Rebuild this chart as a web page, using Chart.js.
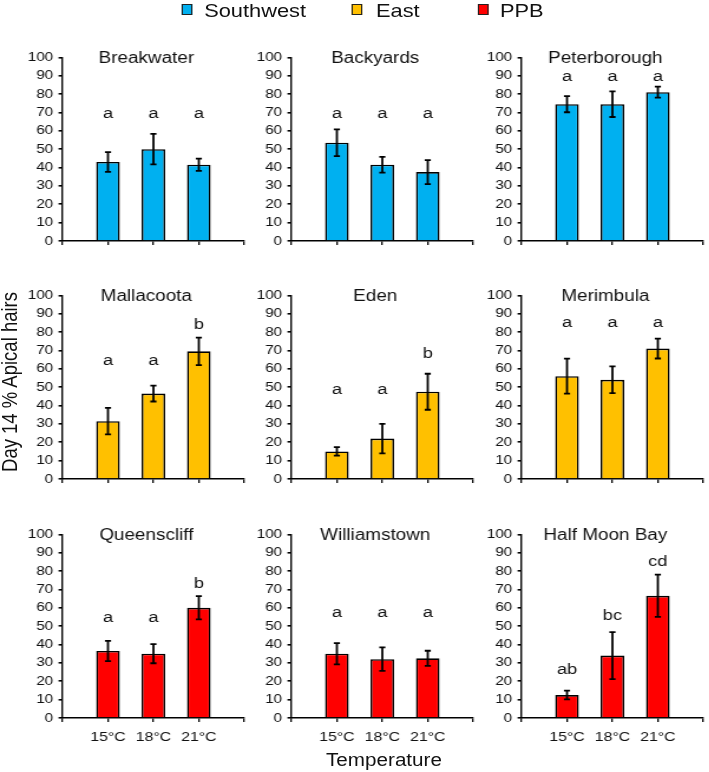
<!DOCTYPE html>
<html>
<head>
<meta charset="utf-8">
<script src="https://cdn.jsdelivr.net/npm/chart.js@4.4.0/dist/chart.umd.min.js"></script>
<style>
    html, body { margin: 0; padding: 0; background: #fff; overflow: hidden; width: 709px; height: 772px; }
    #page {
        position: absolute; left: 0; top: 0; width: 601px; height: 772px;
        transform: scaleX(1.18); transform-origin: 0 0;
        font-family: 'Liberation Sans', Arial, sans-serif; color: #111;
    }
    #page canvas { position: absolute; }
    .lbl { position: absolute; white-space: nowrap; line-height: 20px; }
    .swatch { position: absolute; width: 9px; height: 11px; border: 1px solid #222; box-sizing: border-box; }
</style>
</head>
<body>
<div id="page"></div>
<script>
// data
const regionNames = ['Southwest', 'East', 'PPB']
const regionColors = ['#00B0F0', '#FFC000', '#FF0000']
const sites = ['Breakwater', 'Backyards', 'Peterborough', 'Mallacoota', 'Eden', 'Merimbula', 'Queenscliff', 'Williamstown', 'Half Moon Bay']
const siteRegion = [0, 0, 0, 1, 1, 1, 2, 2, 2]
const temps = ['15°C', '18°C', '21°C']
const means = [
    [43, 50, 41.5],
    [53.5, 41.5, 37.5],
    [74.5, 74.5, 81],
    [31.5, 46.5, 69.5],
    [15, 22, 47.5],
    [56, 54, 71],
    [36.5, 35, 60],
    [35, 32, 32.5],
    [12.5, 34, 66.5],
]
const errs = [
    [5.4, 8.3, 3.3],
    [7.3, 4.3, 6.5],
    [4.4, 7, 3],
    [7.2, 4.3, 7.5],
    [2.3, 8, 9.8],
    [9.5, 7.3, 5.4],
    [5.5, 5.2, 6.3],
    [5.8, 6.4, 4.1],
    [2.4, 12.8, 11.5],
]
const letters = [
    ['a', 'a', 'a'], ['a', 'a', 'a'], ['a', 'a', 'a'],
    ['a', 'a', 'b'], ['a', 'a', 'b'], ['a', 'a', 'a'],
    ['a', 'a', 'b'], ['a', 'a', 'a'], ['ab', 'bc', 'cd'],
]
// baseline of the letters, in axis units
const letterLevels = [
    [67, 67, 67], [67, 67, 67], [87, 87, 87],
    [62, 62, 81.5], [46, 46, 66], [83, 83, 83],
    [52, 52, 70.5], [55, 55, 55], [24, 53.5, 83],
]
const yTitle = 'Day 14 % Apical hairs'
const xTitle = 'Temperature'

// layout (figure is stretched horizontally by S)
const S = 1.18
const FONT = "'Liberation Sans', Arial, sans-serif"
const plotLeft = [62, 292, 522]
const plotTop = [55, 293, 532]
const PLOT_W = 187
const PLOT_H = 186
const Y_W = 40
const X_H = 30
const PAD_T = 10
const PAD_R = 3
const CAP = 2.6

Chart.defaults.font.family = FONT
Chart.defaults.color = '#111'

const page = document.getElementById('page')

// legend
const legendPos = [[154, 173], [297.5, 318.6], [405, 423.7]]
regionNames.forEach((name, i) => {
    const sw = document.createElement('div')
    sw.className = 'swatch'
    sw.style.left = legendPos[i][0] + 'px'
    sw.style.top = '4px'
    sw.style.background = regionColors[i]
    page.appendChild(sw)
    const t = document.createElement('div')
    t.className = 'lbl'
    t.style.left = legendPos[i][1] + 'px'
    t.style.top = '1px'
    t.style.fontSize = '18.5px'
    t.textContent = name
    page.appendChild(t)
})

// axis titles
const yt = document.createElement('div')
yt.className = 'lbl'
yt.style.fontSize = '18.5px'
yt.style.left = (10 / S) + 'px'
yt.style.top = '382px'
yt.style.transform = 'translate(-50%, -50%) rotate(-90deg)'
yt.textContent = yTitle
page.appendChild(yt)

const xt = document.createElement('div')
xt.className = 'lbl'
xt.style.fontSize = '17.5px'
xt.style.left = (384 / S) + 'px'
xt.style.top = '760px'
xt.style.transform = 'translate(-50%, -50%)'
xt.textContent = xTitle
page.appendChild(xt)

sites.forEach((site, i) => {
    const row = Math.floor(i / 3)
    const col = i % 3
    const cv = document.createElement('canvas')
    cv.width = Math.round(Y_W + PLOT_W / S + PAD_R)
    cv.height = PAD_T + PLOT_H + X_H
    cv.style.left = (plotLeft[col] / S - Y_W) + 'px'
    cv.style.top = (plotTop[row] - PAD_T) + 'px'
    page.appendChild(cv)

    // error bars, letters and panel title
    const marks = {
        id: 'marks' + i,
        afterDatasetsDraw(chart) {
            const { ctx, chartArea } = chart
            const xs = chart.scales.x
            const ys = chart.scales.y
            ctx.save()
            ctx.strokeStyle = '#000'
            ctx.lineWidth = 1.8
            means[i].forEach((m, k) => {
                const x = xs.getPixelForValue(k + 1)
                const top = ys.getPixelForValue(m + errs[i][k])
                const bot = ys.getPixelForValue(m - errs[i][k])
                ctx.beginPath()
                ctx.moveTo(x, top)
                ctx.lineTo(x, bot)
                ctx.moveTo(x - CAP, top)
                ctx.lineTo(x + CAP, top)
                ctx.moveTo(x - CAP, bot)
                ctx.lineTo(x + CAP, bot)
                ctx.stroke()
            })
            ctx.fillStyle = '#111'
            ctx.textAlign = 'center'
            ctx.textBaseline = 'alphabetic'
            ctx.font = '15.5px ' + FONT
            letters[i].forEach((t, k) => {
                ctx.fillText(t, xs.getPixelForValue(k + 1), ys.getPixelForValue(letterLevels[i][k]))
            })
            ctx.font = '16px ' + FONT
            ctx.fillText(site, (chartArea.left + chartArea.right) / 2 - 6, chartArea.top + 5.5)
            ctx.restore()
        },
    }

    new Chart(cv, {
        type: 'bar',
        data: {
            datasets: [
                {
                    data: means[i].map((m, k) => ({ x: k + 1, y: m })),
                    backgroundColor: regionColors[siteRegion[i]],
                    borderColor: '#000',
                    borderWidth: 1.6,
                    barPercentage: 1,
                    categoryPercentage: 0.52,
                },
            ],
        },
        options: {
            responsive: false,
            animation: false,
            layout: { padding: { top: PAD_T, right: PAD_R, left: 0, bottom: 0 } },
            plugins: {
                legend: { display: false },
                tooltip: { enabled: false },
            },
            scales: {
                x: {
                    type: 'linear',
                    min: 0,
                    max: 4,
                    offset: false,
                    grid: { offset: false, drawOnChartArea: false, color: '#000', tickLength: 4, lineWidth: 1.3 },
                    border: { color: '#000', width: 1.6 },
                    ticks: {
                        stepSize: 1,
                        autoSkip: false,
                        maxRotation: 0,
                        padding: 7,
                        color: '#111',
                        font: { size: 13.5 },
                        callback: v => (row === 2 && temps[v - 1]) ? temps[v - 1] : '',
                    },
                    afterFit: s => { s.height = X_H },
                },
                y: {
                    min: 0,
                    max: 100,
                    grid: { drawOnChartArea: false, color: '#000', tickLength: 3.4, lineWidth: 1.6 },
                    border: { color: '#000', width: 1.4 },
                    ticks: { stepSize: 10, autoSkip: false, padding: 4.5, color: '#111', font: { size: 13 } },
                    afterFit: s => { s.width = Y_W },
                },
            },
        },
        plugins: [marks],
    })
})
</script>
</body>
</html>
